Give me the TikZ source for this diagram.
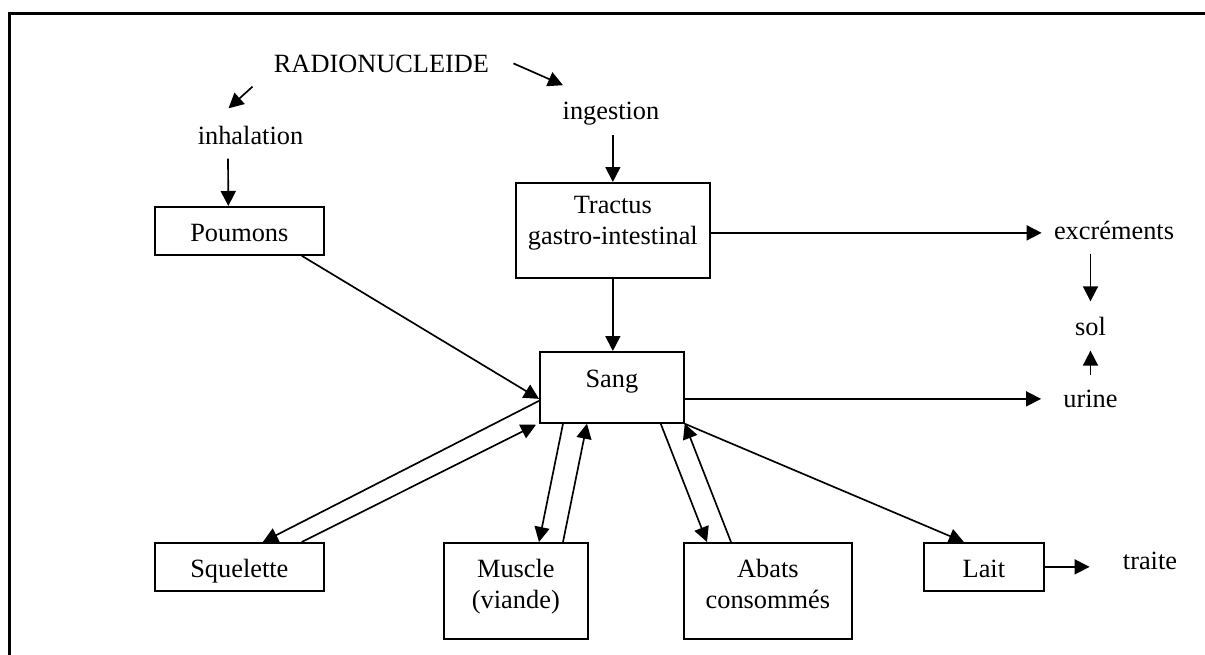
\documentclass[tikz,border=0pt]{standalone}
\usepackage{fontspec}
\setmainfont{Liberation Serif}
\usetikzlibrary{arrows.meta,calc}
\begin{document}
\begin{tikzpicture}[x=0.02cm,y=-0.02cm,
  every node/.style={font=\fontsize{15pt}{17.6pt}\selectfont},
  lbl/.style={inner sep=0pt, anchor=base},
  box/.style={draw, line width=1pt, inner sep=0pt, anchor=north west},
  arr/.style={line width=0.95pt, -{Triangle[length=0.3cm,width=0.3cm]}},
  frame/.style={line width=1.3pt}]
\useasboundingbox (0,0) rectangle (1205,655);
\draw[frame] (9.5,655) -- (9.5,13.5) -- (1205,13.5);

% free labels
\node[lbl] (radio)  at (381.5,73)  {RADIONUCLEIDE};
\node[lbl] (inhal)  at (250.5,145) {inhalation};
\node[lbl] (ingest) at (611,120)   {ingestion};
\node[lbl] (excr)   at (1114,240)  {excréments};
\node[lbl] (sol)    at (1090.5,336) {sol};
\node[lbl] (urine)  at (1090.5,408) {urine};
\node[lbl] (traite) at (1150,570)  {traite};

% compartments
\node[box, minimum width=3.38cm, text height=0.70cm, text depth=0.26cm] (poum) at (154,206) {Poumons};
\node[box, minimum width=3.88cm, text height=0.62cm, text depth=1.28cm] (tract) at (515,182)
  {\begin{tabular}[t]{@{}c@{}}Tractus\\gastro-intestinal\end{tabular}};
\node[box, minimum width=2.88cm, text height=0.72cm, text depth=0.70cm] (sang) at (539,351) {Sang};
\node[box, minimum width=3.38cm, text height=0.70cm, text depth=0.26cm] (squel) at (154,542) {Squelette};
\node[box, minimum width=2.88cm, text height=0.70cm, text depth=1.22cm] (musc) at (443,542)
  {\begin{tabular}[t]{@{}c@{}}Muscle\\(viande)\end{tabular}};
\node[box, minimum width=3.36cm, text height=0.70cm, text depth=1.22cm] (abats) at (683,542)
  {\begin{tabular}[t]{@{}c@{}}Abats\\consommés\end{tabular}};
\node[box, minimum width=2.40cm, text height=0.70cm, text depth=0.26cm] (lait) at (923,542) {Lait};

% intake routes
\draw[arr] ($(radio.south west)+(-21,13)$) -- ($(inhal.north)+(-22,-18)$);
\draw[arr] ($(radio.east)+(24,-1)$) -- ($(ingest.north)+(-48,-17)$);
\draw[arr] ($(ingest.south -| tract.north)+(0,9)$) -- (tract.north);
\draw[arr] ($(inhal.south)+(-22.5,13)$) -- ($(poum.north)+(-11,0)$);

% transfers to and from the blood
\draw[arr] ($(poum.south east)+(-23,0)$) -- ($(sang.west)+(0,11.5)$);
\draw[arr] (tract.south) -- (tract.south |- sang.north);
\draw[arr] ($(sang.west)+(0,13.5)$) -- ($(squel.north)+(23.5,0)$);
\draw[arr] ($(squel.north east)+(-23,0)$) -- ($(sang.south west)+(-3,1)$);
\draw[arr] ($(sang.south west)+(24,0)$) -- ($(musc.north west)+(96,0)$);
\draw[arr] ($(musc.north west)+(120,0)$) -- ($(sang.south west)+(48,0)$);
\draw[arr] ($(sang.south east)+(-24,0)$) -- ($(abats.north west)+(24,0)$);
\draw[arr] ($(abats.north west)+(48,0)$) -- (sang.south east);
\draw[arr] (sang.south east) -- ($(lait.north)+(-20,0)$);

% excretion
\draw[arr, shorten >=0.66cm] (lait.east) -- (lait.east -| traite.west);
\draw[arr, shorten >=0.24cm] ($(tract.east)+(0,2.5)$) coordinate (te) -- (te -| excr.west);
\draw[arr, shorten >=0.44cm] ($(sang.east)+(0,11.5)$) coordinate (se) -- (se -| urine.west);
\draw[arr] ($(excr.south -| sol.north)+(0,13)$) -- ($(sol.north)+(0,-16)$);
\draw[arr] ($(urine.north -| sol.south)+(0,-15)$) -- ($(sol.south)+(0,14)$);
\end{tikzpicture}
\end{document}
